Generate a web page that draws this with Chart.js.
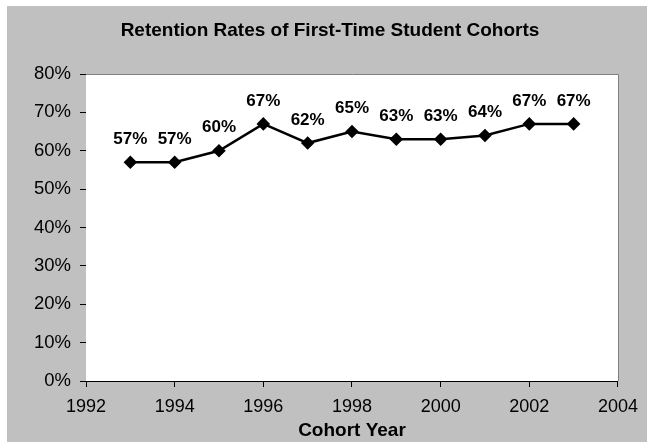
<!DOCTYPE html>
<html>
<head>
<meta charset="utf-8">
<script src="https://cdn.jsdelivr.net/npm/chart.js@4/dist/chart.umd.min.js"></script>
<style>
  body { margin: 0; background: #fff; }
  #wrap { position: absolute; left: 7px; top: 6px; width: 640px; height: 436px; background: #c0c0c0; }
</style>
</head>
<body>
<div id="wrap"><canvas id="chart"></canvas></div>
<script>
const years = [1993, 1994, 1995, 1996, 1997, 1998, 1999, 2000, 2001, 2002, 2003];
const retention = [57, 57, 60, 67, 62, 65, 63, 63, 64, 67, 67];
const xTicks = { min: 1992, max: 2004, step: 2 };
const yTicks = { min: 0, max: 80, step: 10 };
const chartTitle = 'Retention Rates of First-Time Student Cohorts';

const fontFamily = "'Liberation Sans', Arial, sans-serif";

// white plot area, grey top/right frame, title, value labels
const plotFrame = {
  id: 'plotFrame',
  beforeDatasetsDraw(chart) {
    const { ctx, chartArea: a } = chart;
    ctx.save();
    ctx.fillStyle = '#fff';
    ctx.fillRect(a.left, a.top, a.right - a.left, a.bottom - a.top);
    ctx.strokeStyle = '#808080';
    ctx.lineWidth = 1;
    ctx.beginPath();
    ctx.moveTo(a.left, a.top + 0.5);
    ctx.lineTo(a.right + 0.5, a.top + 0.5);
    ctx.lineTo(a.right + 0.5, a.bottom);
    ctx.stroke();

    // title sits over the whole grey box, not over the plot
    ctx.font = 'bold 19px ' + fontFamily;
    ctx.fillStyle = '#000';
    ctx.textAlign = 'center';
    ctx.textBaseline = 'middle';
    ctx.fillText(chartTitle, chart.width / 2 + 3, 25);
    ctx.restore();
  },
  afterDatasetsDraw(chart) {
    const { ctx } = chart;
    const meta = chart.getDatasetMeta(0);
    ctx.save();
    ctx.font = 'bold 17px ' + fontFamily;
    ctx.fillStyle = '#000';
    ctx.textAlign = 'center';
    ctx.textBaseline = 'middle';
    meta.data.forEach((pt, i) => {
      ctx.fillText(retention[i] + '%', pt.x, pt.y - 23);
    });
    ctx.restore();
  }
};

new Chart(document.getElementById('chart'), {
  type: 'line',
  data: {
    datasets: [{
      data: years.map((y, i) => ({ x: y, y: retention[i] })),
      borderColor: '#000',
      backgroundColor: '#000',
      borderWidth: 2.5,
      pointStyle: 'rectRot',
      pointRadius: 5,
      pointHoverRadius: 5,
      tension: 0
    }]
  },
  options: {
    responsive: true,
    maintainAspectRatio: false,
    animation: false,
    layout: { padding: { left: 0, right: 28, top: 68, bottom: 0 } },
    plugins: {
      legend: { display: false },
      tooltip: { enabled: false },
      title: { display: false }
    },
    scales: {
      x: {
        type: 'linear',
        min: xTicks.min,
        max: xTicks.max,
        afterFit(s) { s.height = 61; },
        ticks: {
          stepSize: xTicks.step,
          color: '#000',
          padding: 9,
          maxRotation: 0,
          font: { family: fontFamily, size: 18 },
          callback: v => String(v)
        },
        grid: { drawOnChartArea: false, drawTicks: true, tickLength: 6, color: '#000' },
        border: { color: '#000', width: 1 },
        title: {
          display: true,
          text: 'Cohort Year',
          color: '#000',
          font: { family: fontFamily, size: 19, weight: 'bold', lineHeight: 1.2 },
          padding: { top: 0, bottom: 0 }
        }
      },
      y: {
        min: yTicks.min,
        max: yTicks.max,
        afterFit(s) { s.width = 79; },
        ticks: {
          stepSize: yTicks.step,
          color: '#000',
          padding: 9,
          font: { family: fontFamily, size: 18.5 },
          callback: v => v + '%'
        },
        grid: { drawOnChartArea: false, drawTicks: true, tickLength: 6, color: '#000' },
        border: { color: '#000', width: 1 }
      }
    }
  },
  plugins: [plotFrame]
});
</script>
</body>
</html>
